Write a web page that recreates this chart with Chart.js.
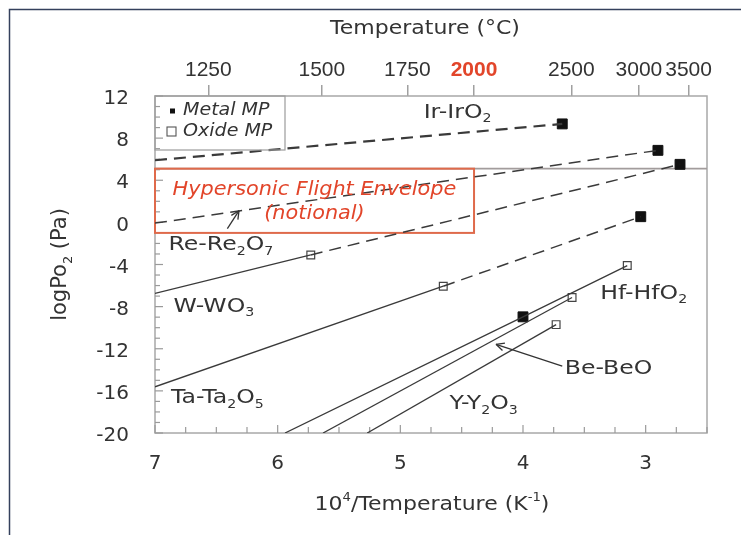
<!DOCTYPE html>
<html>
<head>
<meta charset="utf-8">
<title>Metal / oxide equilibrium oxygen pressures</title>
<script src="https://cdn.jsdelivr.net/npm/chart.js@4.4.1/dist/chart.umd.min.js"></script>
<style>
  html, body { margin: 0; padding: 0; background: #fff; }
  #wrap { width: 741px; height: 535px; }
  canvas { display: block; }
</style>
</head>
<body>
<div id="wrap"><canvas id="chart" width="741" height="535"></canvas></div>
<script>
// Equilibrium oxygen pressure for metal / oxide couples.
// x = 10^4 / T (K^-1), y = log pO2 (Pa)
const irIrO2  = [[7.00,  5.90], [3.68,  9.35]];
const reRe2O7 = [[7.00, -0.07], [2.90,  6.84]];
const wWO3    = [[7.00, -6.75], [5.73, -3.09], [2.72,  5.51]];
const taTa2O5 = [[7.00, -15.61], [4.65, -6.06], [3.04,  0.54]];
const hfHfO2  = [[5.94, -20.00], [4.00, -8.97], [3.15, -4.10]];
const beBeO   = [[5.63, -20.00], [3.60, -7.13]];
const yY2O3   = [[5.27, -20.00], [3.73, -9.71]];

// Melting points that sit on the curves
const metalMP = [irIrO2[1], reRe2O7[1], wWO3[2], taTa2O5[2], hfHfO2[1]];
const oxideMP = [wWO3[1], taTa2O5[1], hfHfO2[2], beBeO[1], yY2O3[1]];

// Solid below the oxide melting point, dashed above it
const solidCurves  = [wWO3.slice(0, 2), taTa2O5.slice(0, 2), hfHfO2, beBeO, yY2O3];
const dashedCurves = [irIrO2, reRe2O7, wWO3.slice(1), taTa2O5.slice(1)];

// Notional hypersonic flight envelope
const envelopeLogPO2 = [-1.0, 5.1];
const envelopeMaxTempC = 2000;

// Axis ticks
const invTempTicks = [7, 6, 5, 4, 3];
const tempTicksC = [1250, 1500, 1750, 2000, 2500, 3000, 3500];
const highlightTempC = 2000;

const FONT = '"DejaVu Sans", "Liberation Sans", sans-serif';
const NUM_FONT = '"Liberation Sans", Arial, sans-serif';
const TEXT = '#333333';
const LINE = '#3a3a3a';
const RED = '#e2452a';
const FRAME = '#a8a8a8';

const toXY = pts => pts.map(p => ({ x: p[0], y: p[1] }));
const invT = c => 1e4 / (c + 273.15);

// Curve labels, anchored in data units
const curveLabels = [
  { parts: [['Ir-IrO'], ['2', 'sub']], x: 4.81, y: 10.43 },
  { parts: [['Re-Re'], ['2', 'sub'], ['O'], ['7', 'sub']], x: 6.89, y: -2.11 },
  { parts: [['W-WO'], ['3', 'sub']], x: 6.85, y: -7.98 },
  { parts: [['Ta-Ta'], ['2', 'sub'], ['O'], ['5', 'sub']], x: 6.87, y: -16.68 },
  { parts: [['Hf-HfO'], ['2', 'sub']], x: 3.37, y: -6.75 },
  { parts: [['Be-BeO']], x: 3.66, y: -13.95 },
  { parts: [['Y-Y'], ['2', 'sub'], ['O'], ['3', 'sub']], x: 4.60, y: -17.26 }
];
const pointerArrows = [
  { from: [6.41, -0.59], to: [6.315, 1.11] },
  { from: [3.68, -13.66], to: [4.22, -11.58] }
];

const datasets = [];
solidCurves.forEach(c => datasets.push({
  data: toXY(c), showLine: true, borderColor: LINE, borderWidth: 1.3,
  pointRadius: 0, fill: false
}));
dashedCurves.forEach((c, i) => datasets.push({
  data: toXY(c), showLine: true, borderColor: LINE, borderWidth: i === 0 ? 2.2 : 1.5,
  borderDash: [12, 7], pointRadius: 0, fill: false
}));
datasets.push({
  label: 'Metal MP', data: toXY(metalMP), showLine: false, pointStyle: 'rect',
  pointRadius: 7, backgroundColor: '#111', borderColor: '#111', borderWidth: 1
});
datasets.push({
  label: 'Oxide MP', data: toXY(oxideMP), showLine: false, pointStyle: 'rect',
  pointRadius: 5.5, backgroundColor: '#fff', borderColor: '#444', borderWidth: 1.2
});

function drawRich(ctx, parts, x, y, o) {
  const size = o.size;
  const style = o.italic ? 'italic ' : '';
  const big = `${style}${o.weight || 'normal'} ${size}px ${FONT}`;
  const small = `${style}normal ${Math.round(size * 0.62)}px ${FONT}`;
  ctx.save();
  ctx.translate(x, y);
  if (o.rotate) ctx.rotate(o.rotate);
  ctx.scale(o.sx || 1, 1);
  let w = 0;
  parts.forEach(p => { ctx.font = p[1] ? small : big; w += ctx.measureText(p[0]).width; });
  let cx = o.align === 'center' ? -w / 2 : 0;
  ctx.textBaseline = 'middle';
  ctx.textAlign = 'left';
  ctx.fillStyle = o.color || TEXT;
  parts.forEach(p => {
    ctx.font = p[1] ? small : big;
    const dy = p[1] === 'sub' ? size * 0.34 : p[1] === 'sup' ? -size * 0.36 : 0;
    ctx.fillText(p[0], cx, dy);
    cx += ctx.measureText(p[0]).width;
  });
  ctx.restore();
}

function seg(ctx, x1, y1, x2, y2) {
  ctx.beginPath(); ctx.moveTo(x1, y1); ctx.lineTo(x2, y2); ctx.stroke();
}

const decor = {
  id: 'decor',
  beforeDraw(chart) {
    const ctx = chart.ctx;
    ctx.save();
    ctx.fillStyle = '#fff';
    ctx.fillRect(0, 0, chart.width, chart.height);
    ctx.strokeStyle = '#34405c';
    ctx.lineWidth = 1.5;
    ctx.beginPath();
    ctx.moveTo(9.5, chart.height); ctx.lineTo(9.5, 9.5); ctx.lineTo(chart.width, 9.5);
    ctx.stroke();
    ctx.restore();
  },
  beforeDatasetsDraw(chart) {
    const { ctx, chartArea: a, scales: { x, y } } = chart;
    ctx.save();
    // frame
    ctx.strokeStyle = FRAME; ctx.lineWidth = 1.5;
    ctx.strokeRect(a.left, a.top, a.right - a.left, a.bottom - a.top);
    // inner ticks
    ctx.lineWidth = 1.2; ctx.strokeStyle = '#9a9a9a';
    for (let v = -20; v <= 12; v++) {
      const py = y.getPixelForValue(v);
      seg(ctx, a.left, py, a.left + (v % 4 === 0 ? 8 : 5), py);
    }
    for (let k = 0; k <= 18; k++) {
      const v = 7 - k * 0.25;
      const px = x.getPixelForValue(v);
      seg(ctx, px, a.bottom, px, a.bottom - (k % 4 === 0 ? 8 : 6));
    }
    // envelope
    const yTop = y.getPixelForValue(envelopeLogPO2[1]);
    const yBot = y.getPixelForValue(envelopeLogPO2[0]);
    const xEnd = x.getPixelForValue(invT(envelopeMaxTempC));
    ctx.strokeStyle = '#a29c9c'; ctx.lineWidth = 1.6;
    seg(ctx, a.left, yTop, a.right, yTop);
    ctx.strokeStyle = '#df6a4b'; ctx.lineWidth = 2;
    ctx.strokeRect(a.left, yTop, xEnd - a.left, yBot - yTop);
    ctx.restore();
  },
  afterDatasetsDraw(chart) {
    const { ctx, chartArea: a, scales: { x, y } } = chart;
    // envelope caption
    const cx = x.getPixelForValue(5.70);
    drawRich(ctx, [['Hypersonic Flight Envelope']], cx, y.getPixelForValue(3.10),
      { size: 20, sx: 1.04, italic: true, align: 'center', color: RED });
    drawRich(ctx, [['(notional)']], cx, y.getPixelForValue(0.83),
      { size: 20, sx: 1.04, italic: true, align: 'center', color: RED });
    // curve names
    curveLabels.forEach(l => drawRich(ctx, l.parts, x.getPixelForValue(l.x), y.getPixelForValue(l.y),
      { size: 20, sx: 1.18 }));
    // pointers
    ctx.save();
    ctx.strokeStyle = '#333'; ctx.lineWidth = 1.3;
    pointerArrows.forEach(p => {
      const x1 = x.getPixelForValue(p.from[0]), y1 = y.getPixelForValue(p.from[1]);
      const x2 = x.getPixelForValue(p.to[0]), y2 = y.getPixelForValue(p.to[1]);
      seg(ctx, x1, y1, x2, y2);
      const ang = Math.atan2(y2 - y1, x2 - x1);
      [0.45, -0.45].forEach(d => seg(ctx, x2, y2,
        x2 - 9 * Math.cos(ang + d), y2 - 9 * Math.sin(ang + d)));
    });
    ctx.restore();
    // legend
    ctx.save();
    ctx.strokeStyle = '#9c9c9c'; ctx.lineWidth = 1.2;
    ctx.strokeRect(a.left, a.top, 130, 54);
    const ds = chart.data.datasets;
    const metal = ds[ds.length - 2], oxide = ds[ds.length - 1];
    ctx.fillStyle = '#111';
    ctx.fillRect(a.left + 15, a.top + 12.5, 5, 5);
    ctx.fillStyle = '#fff'; ctx.strokeStyle = '#555'; ctx.lineWidth = 1.1;
    ctx.fillRect(a.left + 12, a.top + 31, 9, 9);
    ctx.strokeRect(a.left + 12, a.top + 31, 9, 9);
    ctx.restore();
    drawRich(ctx, [[metal.label]], a.left + 28, a.top + 15, { size: 17, sx: 1.12, italic: true });
    drawRich(ctx, [[oxide.label]], a.left + 28, a.top + 36, { size: 17, sx: 1.12, italic: true });
    // axis titles
    const mid = (a.left + a.right) / 2;
    drawRich(ctx, [['Temperature (°C)']], mid - 6, 29, { size: 20, sx: 1.1, align: 'center' });
    drawRich(ctx, [['10'], ['4', 'sup'], ['/Temperature (K'], ['-1', 'sup'], [')']], mid + 1, 505,
      { size: 20, sx: 1.1, align: 'center' });
    drawRich(ctx, [['logPo'], ['2', 'sub'], [' (Pa)']], 61, (a.top + a.bottom) / 2,
      { size: 21, align: 'center', rotate: -Math.PI / 2 });
  }
};

const tickFont = { family: FONT, size: 20 };

new Chart(document.getElementById('chart'), {
  type: 'scatter',
  data: { datasets },
  options: {
    responsive: false,
    devicePixelRatio: 1,
    animation: false,
    events: [],
    layout: { padding: { left: 0, right: 34, top: 0, bottom: 0 } },
    plugins: { legend: { display: false }, tooltip: { enabled: false } },
    scales: {
      x: {
        type: 'linear', position: 'bottom', reverse: true, min: 2.5, max: 7,
        afterBuildTicks: s => { s.ticks = invTempTicks.map(v => ({ value: v })); },
        afterFit: s => { s.height = 102; },
        ticks: { font: tickFont, color: TEXT, padding: 11, autoSkip: false, maxRotation: 0,
                 callback: v => String(v) },
        grid: { display: false }, border: { display: false }
      },
      xTop: {
        type: 'linear', position: 'top', reverse: true, min: 2.5, max: 7,
        afterBuildTicks: s => { s.ticks = tempTicksC.map(t => ({ value: invT(t) })); },
        afterFit: s => { s.height = 96; },
        ticks: {
          font: c => ({ family: NUM_FONT, size: 21, weight: tempTicksC[c.index] === highlightTempC ? 'bold' : 'normal' }),
          color: c => tempTicksC[c.index] === highlightTempC ? RED : TEXT,
          padding: 2, autoSkip: false, maxRotation: 0,
          callback: (v, i) => String(tempTicksC[i])
        },
        grid: { display: true, drawOnChartArea: false, drawTicks: true, tickLength: 11,
                color: '#a0a0a0', lineWidth: 1.5 },
        border: { display: false }
      },
      y: {
        type: 'linear', min: -20, max: 12,
        afterFit: s => { s.width = 155; },
        ticks: { stepSize: 4, font: tickFont, color: TEXT, padding: 18, labelOffset: 3 },
        grid: { display: false }, border: { display: false }
      }
    }
  },
  plugins: [decor]
});
</script>
</body>
</html>
